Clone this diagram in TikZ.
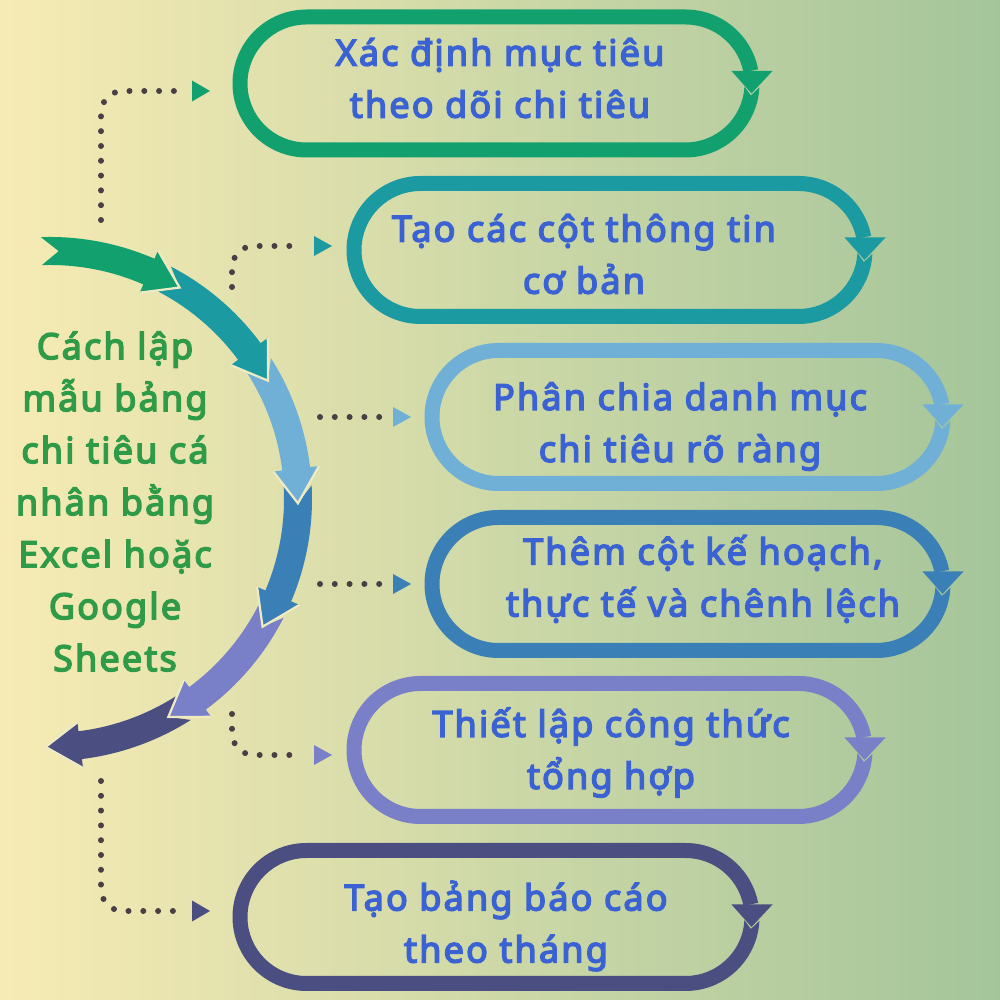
\documentclass[tikz,border=0pt]{standalone}
\usepackage{fontspec}
\setmainfont{Noto Sans}[AutoFakeBold=4]
\newfontfamily\boldsp{Noto Sans}[FakeBold=4, LetterSpace=6]
\definecolor{bgl}{HTML}{F7EBB4}
\definecolor{bgr}{HTML}{A4C59A}
\definecolor{cgreen}{HTML}{13A06F}
\definecolor{cteal}{HTML}{1B9AA2}
\definecolor{clblue}{HTML}{70B0D6}
\definecolor{cblue}{HTML}{3A80B6}
\definecolor{cpurple}{HTML}{7A80C8}
\definecolor{cnavy}{HTML}{4A4E80}
\definecolor{txtc}{HTML}{3A62D2}
\definecolor{titlec}{HTML}{2F9A48}
\definecolor{dotc}{HTML}{4A3F45}
\definecolor{edgec}{HTML}{EEEBC4}
\newcommand{\loopbox}[4]{%
\fill[#1] ([shift={(#3,#4)}]-3:74) arc[start angle=-3, end angle=-90, radius=74]
 -- ([shift={(#2,#4)}]-90:74) arc[start angle=-90, end angle=-270, radius=74]
 -- ([shift={(#3,#4)}]90:74) arc[start angle=90, end angle=11, radius=74]
 -- ([shift={(#3,#4)}]11:59) arc[start angle=11, end angle=90, radius=59]
 -- ([shift={(#2,#4)}]90:59) arc[start angle=90, end angle=270, radius=59]
 -- ([shift={(#3,#4)}]-90:59) arc[start angle=-90, end angle=-3, radius=59]
 -- ([shift={(#3,#4)}]-10.4:66.5) -- cycle;
\fill[#1] ([shift={(#3,#4)}]46,12.5) -- ([shift={(#3,#4)}]87,12.5) -- ([shift={(#3,#4)}]66,-10) -- cycle;
}
\newcommand{\arcseg}[3]{%
\pgfmathsetmacro\hb{#3+8}%
\pgfmathsetmacro\nt{#2-4}%
\fill[#1]
 ([shift={(50,501)}]#2:262) arc[start angle=#2, end angle=\hb, radius=262]
 -- ([shift={(50,501)}]\hb:271) -- ([shift={(50,501)}]#3:248)
 -- ([shift={(50,501)}]\hb:225) -- ([shift={(50,501)}]\hb:234)
 arc[start angle=\hb, end angle=#2, radius=234]
 -- ([shift={(50,501)}]\nt:248) -- cycle;
\draw[edgec, line width=2.2pt, line join=miter] ([shift={(50,501)}]\hb:271) -- ([shift={(50,501)}]#3:248) -- ([shift={(50,501)}]\hb:225);
}
\tikzset{
 dots/.style={line width=6pt, line cap=round, dash pattern=on 0pt off 14.8pt, draw=dotc, rounded corners=22pt},
 boxtext/.style={font=\fontsize{36}{52}\boldsp, text=txtc, align=center, inner sep=0pt},
 titletext/.style={font=\fontsize{36}{52}\boldsp, text=titlec, align=center, inner sep=0pt}
}
\begin{document}
\begin{tikzpicture}[x=1pt,y=1pt]
\useasboundingbox (0,0) rectangle (1000,1000);
\shade[left color=bgl, right color=bgr] (0,0) rectangle (1000,1000);

% loop boxes
\loopbox{cgreen}{306.5}{685.5}{916.5}
\loopbox{cteal}{420.5}{798.5}{750}
\loopbox{clblue}{498.5}{876.5}{583}
\loopbox{cblue}{498.5}{876.5}{416}
\loopbox{cpurple}{420.5}{798.5}{250}
\loopbox{cnavy}{306.5}{685.5}{83}

% box texts
\node[boxtext] (t1) at (500,922) {Xác định mục tiêu\\theo dõi chi tiêu};
\node[boxtext] (t2) at (584,746) {Tạo các cột thông tin\\cơ bản};
\node[boxtext] (t3) at (680,573.5) {Phân chia danh mục\\chi tiêu rõ ràng};
\node[boxtext] (t4) at (703,421) {Thêm cột kế hoạch,\\thực tế và chênh lệch};
\node[boxtext] (t5) at (611,247.5) {Thiết lập công thức\\tổng hợp};
\node[boxtext] (t6) at (506,74) {Tạo bảng báo cáo\\theo tháng};

% title
\node[titletext] (title) at (115,498.5) {Cách lập\\mẫu bảng\\chi tiêu cá\\nhân bằng\\Excel hoặc\\Google\\Sheets};

% curved arrow segments (drawn last-first so heads lie on top)
\arcseg{cnavy}{-57.5}{-91}
\arcseg{cpurple}{-27}{-61.5}
\arcseg{cblue}{3}{-31}
\arcseg{clblue}{32.5}{-1}
\arcseg{cteal}{62.5}{28.5}
\arcseg{cgreen}{92}{58.5}

% dotted connectors
\coordinate (a1) at (101,780); \coordinate (b1) at (101,909); \coordinate (e1) at (177,909);
\coordinate (a2) at (232,713); \coordinate (b2) at (232,754); \coordinate (e2) at (300,754);
\coordinate (a3) at (320,583); \coordinate (e3) at (380,583);
\coordinate (a4) at (320,416); \coordinate (e4) at (380,416);
\coordinate (a5) at (232,286); \coordinate (b5) at (232,245); \coordinate (e5) at (300,245);
\coordinate (a6) at (101,219); \coordinate (b6) at (101,89); \coordinate (e6) at (177,89);
\draw[dots] (a1) -- (b1) -- (e1);
\draw[dots] (a2) -- (b2) -- (e2);
\draw[dots] (a3) -- (e3);
\draw[dots] (a4) -- (e4);
\draw[dots] (a5) -- (b5) -- (e5);
\draw[dots] (a6) -- (b6) -- (e6);
\fill[cgreen] (192,919.5) -- (192,898.5) -- (210,909) -- cycle;
\fill[cteal] (314,764) -- (314,744) -- (332,754) -- cycle;
\fill[clblue] (393,593) -- (393,573) -- (411,583) -- cycle;
\fill[cblue] (393,426) -- (393,406) -- (411,416) -- cycle;
\fill[cpurple] (314,255) -- (314,235) -- (332,245) -- cycle;
\fill[cnavy] (192,99.5) -- (192,78.5) -- (210,89) -- cycle;
\end{tikzpicture}
\end{document}
